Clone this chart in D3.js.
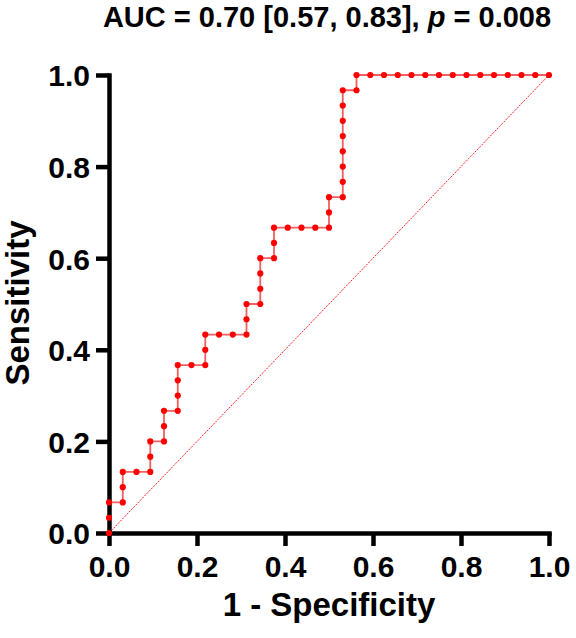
<!DOCTYPE html>
<html lang="en">
<head>
    <meta charset="UTF-8">
    <script src="https://cdnjs.cloudflare.com/ajax/libs/d3/7.8.5/d3.min.js" type="text/JavaScript"></script>
    <style>
        body { margin: 0; background: #fff; }
        text { font-family: "Liberation Sans", Arial, sans-serif; font-weight: bold; fill: #000; }
    </style>
</head>
<body>
<div id="viz">
    <svg style="width:576px;height:638px;"></svg>
</div>
<script>
    // ROC points (32 negatives, 30 positives)
    const oneMinusSpecificity = [0, 0, 0, .0313, .0313, .0313, .0625, .0938, .0938, .0938,
        .125, .125, .125, .1563, .1563, .1563, .1563, .1875, .2188, .2188, .2188, .25, .2813,
        .3125, .3125, .3125, .3438, .3438, .3438, .3438, .375, .375, .375, .4063, .4375, .4688,
        .5, .5, .5, .5313, .5313, .5313, .5313, .5313, .5313, .5313, .5313, .5625, .5625,
        .5938, .625, .6563, .6875, .7188, .75, .7813, .8125, .8438, .875, .9063, .9375, .9688, 1];
    const sensitivity = [0, .0333, .0667, .0667, .1, .1333, .1333, .1333, .1667, .2,
        .2, .2333, .2667, .2667, .3, .3333, .3667, .3667, .3667, .4, .4333, .4333, .4333,
        .4333, .4667, .5, .5, .5333, .5667, .6, .6, .6333, .6667, .6667, .6667, .6667,
        .6667, .7, .7333, .7333, .7667, .8, .8333, .8667, .9, .9333, .9667, .9667, 1,
        1, 1, 1, 1, 1, 1, 1, 1, 1, 1, 1, 1, 1, 1];
    const tickValues = [0, 0.2, 0.4, 0.6, 0.8, 1.0];
    const tickLabels = ['0.0', '0.2', '0.4', '0.6', '0.8', '1.0'];

    const svg = d3.select('svg');
    const xScale = d3.scaleLinear().domain([0, 1]).range([109, 549]);
    const yScale = d3.scaleLinear().domain([0, 1]).range([533, 75]);

    const points = oneMinusSpecificity.map((x, i) => ({x: x, y: sensitivity[i]}));

    // reference diagonal
    svg.append('line')
        .attr('x1', xScale(0)).attr('y1', yScale(0))
        .attr('x2', xScale(1)).attr('y2', yScale(1))
        .style('stroke', '#ff2020')
        .style('stroke-width', 1)
        .style('stroke-dasharray', '2,1.2');

    const line = d3.line().x(d => xScale(d.x)).y(d => yScale(d.y));

    svg.append('path')
        .datum(points)
        .attr('d', line)
        .style('fill', 'none')
        .style('stroke', '#f06060')
        .style('stroke-width', 1.8);

    const fmt = (d, i) => tickLabels[i];

    const xAxis = svg.append('g')
        .attr('transform', 'translate(0,533)')
        .call(d3.axisBottom(xScale).tickValues(tickValues).tickFormat(fmt)
            .tickSize(13).tickSizeOuter(0).tickPadding(10));
    const yAxis = svg.append('g')
        .attr('transform', 'translate(109,0)')
        .call(d3.axisLeft(yScale).tickValues(tickValues).tickFormat(fmt)
            .tickSize(13).tickSizeOuter(0).tickPadding(6));

    [xAxis, yAxis].forEach(ax => {
        ax.select('.domain').style('stroke', '#000').style('stroke-width', 4.5).style('stroke-linecap', 'square');
        ax.selectAll('.tick line').style('stroke', '#000').style('stroke-width', 4.5);
        ax.selectAll('.tick text').style('font-size', '30px').style('font-family', '"Liberation Sans", Arial, sans-serif')
            .style('font-weight', 'bold').style('fill', '#000');
    });
    yAxis.selectAll('.tick text').attr('dy', '0.36em');

    svg.selectAll('circle')
        .data(points).enter()
        .append('circle')
        .attr('cx', d => xScale(d.x))
        .attr('cy', d => yScale(d.y))
        .attr('r', 3.1)
        .style('fill', '#ff0000');

    // titles
    const title = svg.append('text')
        .attr('x', 327).attr('y', 27)
        .attr('text-anchor', 'middle')
        .style('font-size', '29px');
    title.append('tspan').text('AUC = 0.70 [0.57, 0.83], ');
    title.append('tspan').style('font-style', 'italic').text('p');
    title.append('tspan').text(' = 0.008');

    svg.append('text')
        .attr('x', 329).attr('y', 616)
        .attr('text-anchor', 'middle')
        .style('font-size', '33px')
        .text('1 - Specificity');

    svg.append('text')
        .attr('transform', 'translate(29,303) rotate(-90)')
        .attr('text-anchor', 'middle')
        .style('font-size', '33px')
        .text('Sensitivity');
</script>
</body>
</html>
